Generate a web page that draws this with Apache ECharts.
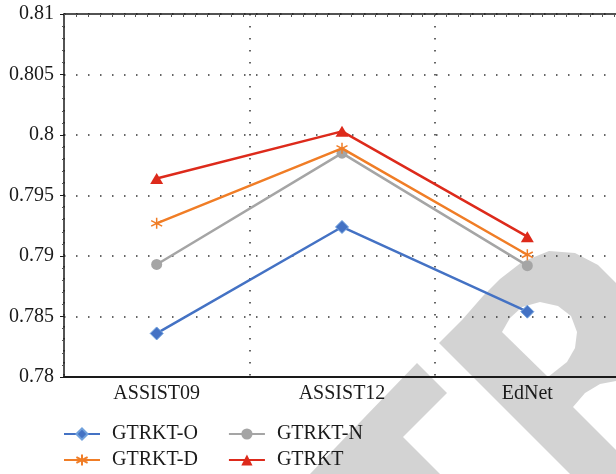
<!DOCTYPE html>
<html>
<head>
<meta charset="utf-8">
<script src="https://cdn.jsdelivr.net/npm/echarts@6/dist/echarts.min.js"></script>
<style>
html,body{margin:0;padding:0;background:#fff;}
#chart{width:616px;height:474px;background:#fff;}
</style>
</head>
<body>
<div id="chart"></div>
<script>
// ---- data ----
var categories = ['ASSIST09', 'ASSIST12', 'EdNet'];
var seriesNames = ['GTRKT-O', 'GTRKT-D', 'GTRKT-N', 'GTRKT'];
var gtrktO = [0.7836, 0.7924, 0.7854];
var gtrktD = [0.7927, 0.7989, 0.7901];
var gtrktN = [0.7893, 0.7985, 0.7892];
var gtrkt  = [0.7964, 0.8003, 0.7916];
var yMin = 0.78, yMax = 0.81, yStep = 0.005;

var FONT = 'Liberation Serif';
var chart = echarts.init(document.getElementById('chart'), null, {renderer: 'canvas'});

var asterisk = 'path://M5,0L5,10M0.7,2.5L9.3,7.5M9.3,2.5L0.7,7.5';
var WM = '#d3d3d3';

var option = {
  backgroundColor: '#ffffff',
  animation: false,
  graphic: {
    zlevel: 0,
    elements: [
      {type: 'polygon', z2: 0, silent: true,
       shape: {points: [[417,363],[447,393],[403,437],[440,474],[310,474]]},
       style: {fill: WM}},
      {type: 'polygon', z2: 0, silent: true,
       shape: {points: [[439,343],[462,320],[483,296],[500,279],[522,262],[549,251],[575,253],[598,265],[616,283],
                        [616,381],[600,384],[585,393],[573,407],[616,450],[616,474],[570,474]]},
       style: {fill: WM}},
      {type: 'polygon', z2: 1, silent: true,
       shape: {points: [[502,332],[510,318],[522,307],[540,302],[558,306],[571,316],[577,332],[575,348],[567,362],[548,377]]},
       style: {fill: '#ffffff'}}
    ]
  },
  grid: {left: 64, top: 14, width: 556, bottom: 97, containLabel: false, outerBoundsMode: 'none', zlevel: 1},
  legend: [
    {left: 63, top: 424, padding: 0, zlevel: 1, orient: 'horizontal', itemWidth: 36, itemHeight: 14, itemGap: 30,
     data: ['GTRKT-O', 'GTRKT-N'],
     textStyle: {fontFamily: FONT, fontSize: 20, color: '#1a1a1a', width: 100, padding: [0,0,0,7]}},
    {left: 63, top: 450, padding: 0, zlevel: 1, orient: 'horizontal', itemWidth: 36, itemHeight: 14, itemGap: 30,
     data: ['GTRKT-D', 'GTRKT'],
     textStyle: {fontFamily: FONT, fontSize: 20, color: '#1a1a1a', width: 100, padding: [0,0,0,7]}}
  ],
  xAxis: [
    {type: 'category', data: categories, boundaryGap: true, position: 'bottom', zlevel: 1, z: 0,
     axisLine: {show: true, lineStyle: {color: '#1a1a1a', width: 2}},
     axisTick: {show: false},
     axisLabel: {fontFamily: FONT, fontSize: 20, color: '#1a1a1a', margin: 7},
     splitLine: {show: true, lineStyle: {color: '#333', width: 1.5, type: [1.5, 10.5]}}},
    {type: 'value', position: 'top', min: 0, max: 46.5, interval: 1, zlevel: 1, z: 0,
     axisLine: {show: true, onZero: false, lineStyle: {color: '#1a1a1a', width: 1.5}},
     axisTick: {show: true, inside: true, length: 3, lineStyle: {color: '#555', width: 1}},
     axisLabel: {show: false}, splitLine: {show: false}}
  ],
  yAxis: {
    type: 'value', min: yMin, max: yMax, interval: yStep, zlevel: 1, z: 0,
    axisLine: {show: true, lineStyle: {color: '#1a1a1a', width: 1.5}},
    axisTick: {show: true, length: 4, lineStyle: {color: '#1a1a1a', width: 1}},
    minorTick: {show: true, splitNumber: 5, length: 2, lineStyle: {color: '#555', width: 1}},
    axisLabel: {fontFamily: FONT, fontSize: 20, color: '#1a1a1a', margin: 10},
    splitLine: {show: true, lineStyle: {color: '#333', width: 1.5, type: [1.5, 10.5]}}
  },
  series: [
    {name: 'GTRKT-O', type: 'line', data: gtrktO, xAxisIndex: 0, zlevel: 1, z: 3,
     symbol: 'diamond', symbolSize: 13,
     lineStyle: {color: '#4472C4', width: 2.5},
     itemStyle: {color: '#4472C4', borderColor: '#6FA0DC', borderWidth: 1}},
    {name: 'GTRKT-D', type: 'line', data: gtrktD, xAxisIndex: 0, zlevel: 1, z: 4,
     symbol: asterisk, symbolSize: 11,
     lineStyle: {color: '#F07D26', width: 2.5},
     itemStyle: {color: '#F07D26', borderColor: '#F07D26', borderWidth: 1.5}},
    {name: 'GTRKT-N', type: 'line', data: gtrktN, xAxisIndex: 0, zlevel: 1, z: 3,
     symbol: 'circle', symbolSize: 11,
     lineStyle: {color: '#A5A5A5', width: 2.5},
     itemStyle: {color: '#A5A5A5'}},
    {name: 'GTRKT', type: 'line', data: gtrkt, xAxisIndex: 0, zlevel: 1, z: 5,
     symbol: 'triangle', symbolSize: [13, 11],
     lineStyle: {color: '#DD2A1B', width: 2.5},
     itemStyle: {color: '#DD2A1B'}}
  ]
};
chart.setOption(option);
</script>
</body>
</html>
